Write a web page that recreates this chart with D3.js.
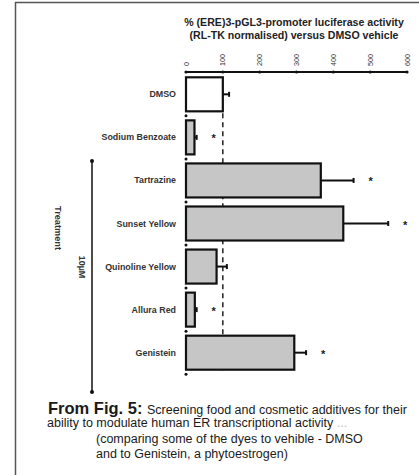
<!DOCTYPE html>
<html>
<head>
<meta charset="utf-8">
<script src="https://cdn.jsdelivr.net/npm/d3@7"></script>
<style>
  html, body { margin: 0; padding: 0; background: #fff; }
  svg { display: block; font-family: "Liberation Sans", Arial, sans-serif; }
</style>
</head>
<body>
<div id="chart"></div>
<script>
// data
const treatments = ['DMSO', 'Sodium Benzoate', 'Tartrazine', 'Sunset Yellow', 'Quinoline Yellow', 'Allura Red', 'Genistein'];
const activity = [100, 23, 366, 427, 83, 24, 294];
const errors = [17, 6, 89, 122, 28, 5, 32];
const significant = [false, true, true, true, false, true, true];
const ticks = [0, 100, 200, 300, 400, 500, 600];
const titleLines = ['% (ERE)3-pGL3-promoter luciferase activity', '(RL-TK normalised) versus DMSO vehicle'];

const W = 419, H = 475;
const svg = d3.select('#chart').append('svg').attr('width', W).attr('height', H);

// frame: top and left edges only
svg.append('line').attr('x1', 15).attr('x2', W).attr('y1', 2.5).attr('y2', 2.5)
  .attr('stroke', '#555').attr('stroke-width', 1.5);
svg.append('line').attr('x1', 15.5).attr('x2', 15.5).attr('y1', 2).attr('y2', H)
  .attr('stroke', '#555').attr('stroke-width', 1.5);

// scales
const x = d3.scaleLinear().domain([0, 600]).range([186, 407]);
const y = d3.scaleBand().domain(treatments).range([73, 374]).paddingInner(0.21).paddingOuter(0.1);
const axisY = 72;

// title
svg.append('g').selectAll('text')
  .data(titleLines)
  .join('text')
  .attr('x', 294)
  .attr('y', (d, i) => 26 + i * 12.5)
  .attr('text-anchor', 'middle')
  .attr('font-size', 10.6)
  .attr('font-weight', 700)
  .attr('fill', '#222')
  .text(d => d);

// top axis line and ticks
svg.append('line').attr('x1', x(0)).attr('x2', x(600)).attr('y1', axisY).attr('y2', axisY)
  .attr('stroke', '#111').attr('stroke-width', 2);
svg.append('g').selectAll('circle')
  .data(ticks)
  .join('circle')
  .attr('cx', d => x(d))
  .attr('cy', axisY)
  .attr('r', 1.6)
  .attr('fill', '#111');
svg.append('g').selectAll('text')
  .data(ticks)
  .join('text')
  .attr('transform', d => `translate(${x(d) + 2.5}, ${axisY - 6}) rotate(-90)`)
  .attr('text-anchor', 'start')
  .attr('font-size', 7.2)
  .attr('fill', '#333')
  .text(d => d);

// band tick dots on the value = 0 line
const bounds = treatments.map(t => y(t) + y.bandwidth() + y.step() * y.paddingInner() / 2);
svg.append('g').selectAll('circle')
  .data(bounds)
  .join('circle')
  .attr('cx', x(0))
  .attr('cy', d => d)
  .attr('r', 1.5)
  .attr('fill', '#111');

// dashed reference line at DMSO level
svg.append('line')
  .attr('x1', x(100)).attr('x2', x(100))
  .attr('y1', y('DMSO') + y.bandwidth() + 2).attr('y2', 373)
  .attr('stroke', '#111').attr('stroke-width', 1.4)
  .attr('stroke-dasharray', '5,4');

// error bars
const eg = svg.append('g');
treatments.forEach((t, i) => {
  const cy = y(t) + y.bandwidth() / 2;
  eg.append('line')
    .attr('x1', x(activity[i])).attr('x2', x(activity[i] + errors[i]))
    .attr('y1', cy).attr('y2', cy)
    .attr('stroke', '#111').attr('stroke-width', 2);
  eg.append('line')
    .attr('x1', x(activity[i] + errors[i])).attr('x2', x(activity[i] + errors[i]))
    .attr('y1', cy - 2.5).attr('y2', cy + 2.5)
    .attr('stroke', '#111').attr('stroke-width', 2);
});

// bars
svg.append('g').selectAll('rect')
  .data(treatments)
  .join('rect')
  .attr('x', x(0))
  .attr('y', d => y(d))
  .attr('width', (d, i) => x(activity[i]) - x(0))
  .attr('height', y.bandwidth())
  .attr('fill', (d, i) => i === 0 ? '#fff' : '#c6c6c6')
  .attr('stroke', '#111')
  .attr('stroke-width', 2.2);

// significance marks
svg.append('g').selectAll('text')
  .data(treatments.filter((t, i) => significant[i]))
  .join('text')
  .attr('x', d => { const i = treatments.indexOf(d); return x(activity[i] + errors[i]) + 17; })
  .attr('y', d => y(d) + y.bandwidth() / 2 + 5)
  .attr('text-anchor', 'middle')
  .attr('font-size', 11)
  .attr('font-weight', 700)
  .attr('fill', '#222')
  .text('*');

// category labels
svg.append('g').selectAll('text')
  .data(treatments)
  .join('text')
  .attr('x', 176)
  .attr('y', d => y(d) + y.bandwidth() / 2 + 3)
  .attr('text-anchor', 'end')
  .attr('font-size', 8.9)
  .attr('font-weight', 700)
  .attr('fill', '#333')
  .text(d => d);

// treatment bracket
const bracket = svg.append('g');
bracket.append('line').attr('x1', 92).attr('x2', 92).attr('y1', 161).attr('y2', 392)
  .attr('stroke', '#111').attr('stroke-width', 1.5);
bracket.selectAll('circle').data([161, 392]).join('circle')
  .attr('cx', 92).attr('cy', d => d).attr('r', 2).attr('fill', '#111');
bracket.append('text')
  .attr('transform', 'translate(55, 228) rotate(90)')
  .attr('text-anchor', 'middle')
  .attr('font-size', 9.2).attr('font-weight', 700).attr('fill', '#333')
  .text('Treatment');
bracket.append('text')
  .attr('transform', 'translate(79, 267) rotate(90)')
  .attr('text-anchor', 'middle')
  .attr('font-size', 9).attr('font-weight', 700).attr('fill', '#333')
  .text('10µM');

// caption
const cap = svg.append('g').attr('fill', '#1a1a1a');
const l1 = cap.append('text').attr('x', 48).attr('y', 414);
l1.append('tspan').attr('font-size', 16.5).attr('font-weight', 700).text('From Fig. 5: ');
l1.append('tspan').attr('font-size', 12.5).text('Screening food and cosmetic additives for their');
const l2 = cap.append('text').attr('x', 47).attr('y', 427).attr('font-size', 12.5);
l2.append('tspan').text('ability to modulate human ER transcriptional activity ');
l2.append('tspan').attr('fill', '#bbb').text('...');
cap.append('text').attr('x', 96).attr('y', 443).attr('font-size', 12.5)
  .text('(comparing some of the dyes to vehible - DMSO');
cap.append('text').attr('x', 96).attr('y', 458).attr('font-size', 12.5)
  .text('and to Genistein, a phytoestrogen)');
</script>
</body>
</html>
